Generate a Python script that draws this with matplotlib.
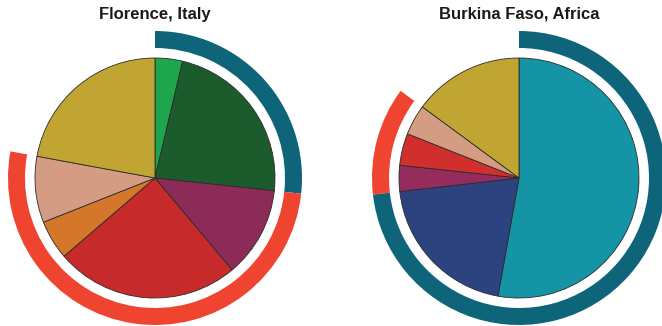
import matplotlib
matplotlib.use("Agg")
import matplotlib.pyplot as plt

# ---------------------------------------------------------------------------
# Data (shares in %, clockwise from 12 o'clock)
# ---------------------------------------------------------------------------
TITLES = ["Florence, Italy", "Burkina Faso, Africa"]

florence_vals = [3.7, 23.0, 12.2, 24.8, 5.3, 8.9, 22.1]
florence_cols = ["#1ea64c", "#1c5c2c", "#8c2b57", "#c62a2b",
                 "#d4772b", "#d49c82", "#c0a532"]
florence_groups = [2, 4, 1]   # slices per outer arc: blue, red, none

burkina_vals = [52.8, 20.4, 3.5, 4.3, 4.1, 14.9]
burkina_cols = ["#1594a5", "#2d437f", "#962b5e", "#d12f2e",
                "#d49c82", "#c0a532"]
burkina_groups = [2, 3, 1]

ARC_COLS = ["#0e6579", "#ef4430", "none"]

# ---------------------------------------------------------------------------
# Layout (pixels)
# ---------------------------------------------------------------------------
W, H = 662, 326
PIE_R = 120.0
BOX = 160.0
CENTERS = [(155, 178), (519, 178)]
TITLE_Y = 14

plt.rcParams["font.family"] = ["Liberation Sans", "DejaVu Sans"]

fig = plt.figure(figsize=(W / 100, H / 100), dpi=100)


def draw(cx, cy, vals, cols, groups, title):
    ax = fig.add_axes([(cx - BOX) / W, (H - cy - BOX) / H, 2 * BOX / W, 2 * BOX / H])
    ax.pie(vals, colors=cols, startangle=90, counterclock=False, radius=1.0,
           wedgeprops=dict(edgecolor="#2a2a2a", linewidth=0.6))

    # outer arcs: sum slices per group
    sums, i = [], 0
    for n in groups:
        sums.append(sum(vals[i:i + n]))
        i += n
    r_out = 147 / PIE_R
    width = 17 / PIE_R
    wedges, _ = ax.pie(sums, colors=ARC_COLS, startangle=90, counterclock=False,
                       radius=r_out, wedgeprops=dict(width=width, linewidth=0))
    wedges[-1].set_visible(False)

    lim = BOX / PIE_R
    ax.set_xlim(-lim, lim)
    ax.set_ylim(-lim, lim)
    ax.set_aspect("equal")
    ax.axis("off")

    fig.text(cx / W, 1 - TITLE_Y / H, title, ha="center", va="center",
             fontsize=12, fontweight="bold", color="#1a1a1a")


draw(*CENTERS[0], florence_vals, florence_cols, florence_groups, TITLES[0])
draw(*CENTERS[1], burkina_vals, burkina_cols, burkina_groups, TITLES[1])

fig.savefig("out.png", dpi=100, facecolor="white")
